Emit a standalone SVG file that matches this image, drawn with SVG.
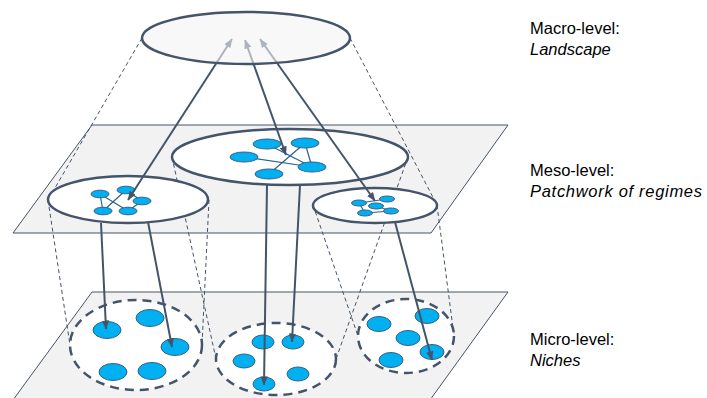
<svg xmlns="http://www.w3.org/2000/svg" width="707" height="398" viewBox="0 0 707 398">
  <style>
    .plane { fill: #f2f2f2; stroke: #44546a; stroke-width: 1; }
    .regime { fill: #ffffff; stroke: #44546a; stroke-width: 2.5; }
    .niche { fill: #ffffff; stroke: #44546a; stroke-width: 2.5; stroke-dasharray: 9 6; }
    .proj { fill: none; stroke: #44546a; stroke-width: 1; stroke-dasharray: 4 3; }
    .actor { fill: #00b0f0; stroke: #3a5f86; stroke-width: 1; }
    .tie { fill: none; stroke: #2a6389; stroke-width: 1.2; }
    .link { fill: none; stroke: #44546a; stroke-width: 2; }
    .label { font-family: "Liberation Sans", Arial, sans-serif; font-size: 16.5px; fill: #000000; }
    .label .sub { font-style: italic; }
  </style>
  <defs>
    <marker id="head" viewBox="0 0 10 8" refX="9.5" refY="4" markerWidth="9" markerHeight="7.5" markerUnits="userSpaceOnUse" orient="auto-start-reverse">
      <path d="M0,0 L10,4 L0,8 z" fill="#44546a"/>
    </marker>
  </defs>

  <!-- planes -->
  <g id="micro-plane">
    <polygon class="plane" points="92,292 508,292 430,400 13,400"/>
  </g>
  <g id="meso-plane">
    <polygon class="plane" points="92,125 508,125 431,233 13,233"/>
  </g>

  <!-- projection cones between levels -->
  <g id="projections">
    <line class="proj" x1="142" y1="38" x2="48" y2="200"/>
    <line class="proj" x1="350" y1="38" x2="437" y2="205"/>
    <line class="proj" x1="48" y1="200" x2="70" y2="345"/>
    <line class="proj" x1="209" y1="200" x2="202" y2="345"/>
    <line class="proj" x1="172" y1="157" x2="216" y2="359"/>
    <line class="proj" x1="408" y1="157" x2="336" y2="359"/>
    <line class="proj" x1="313" y1="205" x2="358" y2="336"/>
    <line class="proj" x1="437" y1="205" x2="454" y2="336"/>
  </g>

  <!-- regimes on the meso level -->
  <g id="regime-mid">
    <ellipse class="regime" cx="290" cy="157" rx="118" ry="28"/>
    <path class="tie" d="M267,144 L312,167 M305,143 L269,174 M305,143 L312,167 M244,157 L312,167"/>
    <ellipse class="actor" cx="267" cy="144" rx="14" ry="5"/>
    <ellipse class="actor" cx="305" cy="143" rx="14" ry="5"/>
    <ellipse class="actor" cx="244" cy="157" rx="14" ry="5"/>
    <ellipse class="actor" cx="312" cy="167" rx="14" ry="5"/>
    <ellipse class="actor" cx="269" cy="174" rx="14" ry="5"/>
  </g>
  <g id="regime-left">
    <ellipse class="regime" cx="128" cy="199.5" rx="80" ry="23.5"/>
    <path class="tie" d="M100,194 L103,211 M100,194 L128,211 M126,190 L103,211 M126,190 L142,201 M142,201 L128,211"/>
    <ellipse class="actor" cx="100" cy="194" rx="9" ry="3.8"/>
    <ellipse class="actor" cx="126" cy="190" rx="9" ry="3.8"/>
    <ellipse class="actor" cx="142" cy="201" rx="9" ry="3.8"/>
    <ellipse class="actor" cx="103" cy="211" rx="9" ry="3.8"/>
    <ellipse class="actor" cx="128" cy="211" rx="9" ry="3.8"/>
  </g>
  <g id="regime-right">
    <ellipse class="regime" cx="375" cy="205.5" rx="62" ry="17.5"/>
    <path class="tie" d="M359,203 L387,199 M359,203 L365,213 M365,213 L391,211 M376,206 L391,211"/>
    <ellipse class="actor" cx="359" cy="203" rx="7.5" ry="3"/>
    <ellipse class="actor" cx="387" cy="199" rx="7.5" ry="3"/>
    <ellipse class="actor" cx="376" cy="206" rx="7.5" ry="3"/>
    <ellipse class="actor" cx="365" cy="213" rx="7.5" ry="3"/>
    <ellipse class="actor" cx="391" cy="211" rx="7.5" ry="3"/>
  </g>

  <!-- niches on the micro level -->
  <g id="niche-left">
    <ellipse class="niche" cx="136" cy="345" rx="66" ry="45"/>
    <ellipse class="actor" cx="107" cy="330" rx="14" ry="8.5"/>
    <ellipse class="actor" cx="150" cy="318" rx="14" ry="8.5"/>
    <ellipse class="actor" cx="175" cy="347" rx="14" ry="8.5"/>
    <ellipse class="actor" cx="113" cy="372" rx="14" ry="8.5"/>
    <ellipse class="actor" cx="152" cy="371" rx="14" ry="8.5"/>
  </g>
  <g id="niche-mid">
    <ellipse class="niche" cx="276" cy="359" rx="60" ry="36"/>
    <ellipse class="actor" cx="263" cy="342" rx="11" ry="7"/>
    <ellipse class="actor" cx="293" cy="342" rx="11" ry="7"/>
    <ellipse class="actor" cx="244" cy="361" rx="11" ry="7"/>
    <ellipse class="actor" cx="298" cy="374" rx="11" ry="7"/>
    <ellipse class="actor" cx="264" cy="384" rx="11" ry="7"/>
  </g>
  <g id="niche-right">
    <ellipse class="niche" cx="406" cy="336" rx="48" ry="37"/>
    <ellipse class="actor" cx="379" cy="324" rx="12" ry="7.5"/>
    <ellipse class="actor" cx="427" cy="316" rx="12" ry="7.5"/>
    <ellipse class="actor" cx="408" cy="338" rx="12" ry="7.5"/>
    <ellipse class="actor" cx="391" cy="360" rx="12" ry="7.5"/>
    <ellipse class="actor" cx="432" cy="352" rx="12" ry="7.5"/>
  </g>

  <!-- connectors -->
  <g id="connectors">
    <line class="link" x1="128" y1="200" x2="232" y2="39" marker-start="url(#head)" marker-end="url(#head)"/>
    <line class="link" x1="286" y1="155" x2="245" y2="40" marker-start="url(#head)" marker-end="url(#head)"/>
    <line class="link" x1="375" y1="201" x2="260" y2="39" marker-start="url(#head)" marker-end="url(#head)"/>
    <line class="link" x1="101" y1="223" x2="106" y2="329" marker-end="url(#head)"/>
    <line class="link" x1="148" y1="222" x2="172" y2="347" marker-end="url(#head)"/>
    <line class="link" x1="267" y1="185" x2="264" y2="385" marker-end="url(#head)"/>
    <line class="link" x1="300" y1="185" x2="292" y2="342" marker-end="url(#head)"/>
    <line class="link" x1="395" y1="222" x2="432" y2="360" marker-end="url(#head)"/>
  </g>

  <!-- landscape on the macro level, translucent over the arrow tips -->
  <g id="landscape">
    <ellipse cx="246" cy="38" rx="104" ry="26" fill="#f4f4f4" fill-opacity="0.6" stroke="#44546a" stroke-width="2.5"/>
  </g>

  <!-- level captions -->
  <g id="captions" class="label">
    <text x="530" y="34">Macro-level:</text>
    <text x="530" y="55" class="sub">Landscape</text>
    <text x="530" y="176">Meso-level:</text>
    <text x="530" y="197" class="sub" textLength="172" lengthAdjust="spacing">Patchwork of regimes</text>
    <text x="530" y="345">Micro-level:</text>
    <text x="530" y="366" class="sub">Niches</text>
  </g>
</svg>
